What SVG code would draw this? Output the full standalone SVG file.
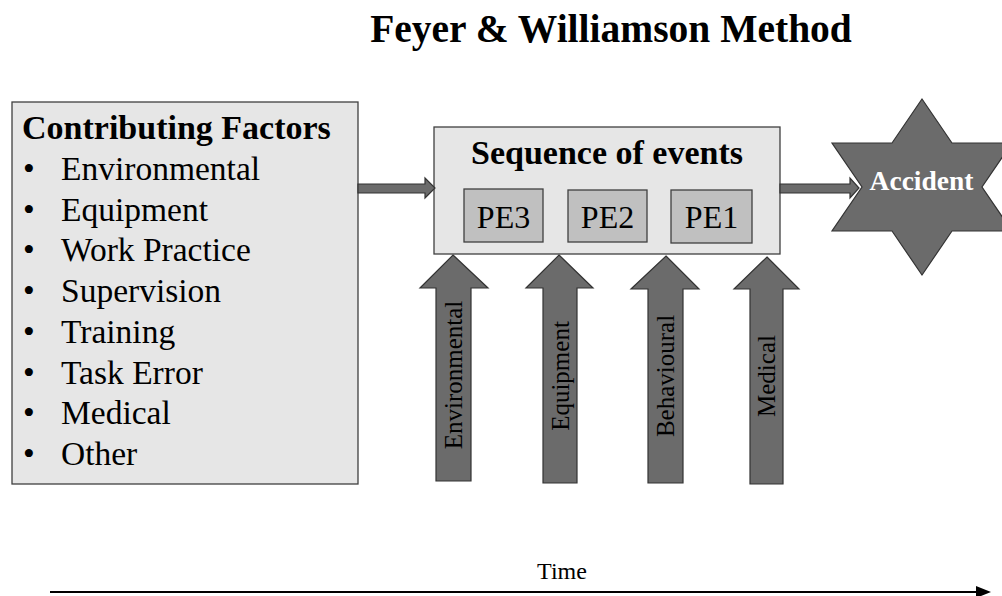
<svg xmlns="http://www.w3.org/2000/svg" width="1002" height="596" viewBox="0 0 1002 596">
<style>
.serif{font-family:"Liberation Serif","Times New Roman",serif;fill:#000}
.title{font-size:39.5px;font-weight:bold}
.head{font-size:34px;font-weight:bold}
.item{font-size:33.5px}
.pe{font-size:32px}
.vlab{font-size:25px}
.box{fill:#e6e6e6;stroke:#404040;stroke-width:1.3}
.pebox{fill:#c0c0c0;stroke:#404040;stroke-width:1.3}
.arrow{fill:#6b6b6b;stroke:#333;stroke-width:1.2}
.axis{stroke:#000;stroke-width:1.8;fill:none}
</style>
<rect width="1002" height="596" fill="#fff"/>
<text class="serif title" x="611" y="42" text-anchor="middle">Feyer &amp; Williamson Method</text>

<g id="contributing-factors">
<rect class="box" x="12" y="102" width="346" height="382"/>
<text class="serif head" x="22" y="139">Contributing Factors</text>
<g class="serif item">
<text x="23" y="180">•</text><text x="61" y="180">Environmental</text>
<text x="23" y="220.7">•</text><text x="61" y="220.7">Equipment</text>
<text x="23" y="261.4">•</text><text x="61" y="261.4">Work Practice</text>
<text x="23" y="302.1">•</text><text x="61" y="302.1">Supervision</text>
<text x="23" y="342.8">•</text><text x="61" y="342.8">Training</text>
<text x="23" y="383.5">•</text><text x="61" y="383.5">Task Error</text>
<text x="23" y="424.2">•</text><text x="61" y="424.2">Medical</text>
<text x="23" y="465">•</text><text x="61" y="465">Other</text>
</g>
</g>

<g id="sequence-of-events">
<rect class="box" x="434" y="127" width="346" height="127"/>
<text class="serif head" x="607" y="164" text-anchor="middle">Sequence of events</text>
<g id="pe3"><rect class="pebox" x="464" y="189" width="79" height="53"/><text class="serif pe" x="503.5" y="228" text-anchor="middle">PE3</text></g>
<g id="pe2"><rect class="pebox" x="568" y="190" width="79" height="52"/><text class="serif pe" x="607.5" y="228" text-anchor="middle">PE2</text></g>
<g id="pe1"><rect class="pebox" x="671" y="190" width="81" height="53"/><text class="serif pe" x="711.5" y="228" text-anchor="middle">PE1</text></g>
</g>

<g id="accident">
<path d="M922,99 L952,143 L1012,143 L982,187 L1012,231 L952,231 L922,275 L892,231 L832,231 L862,187 L832,143 L892,143 Z" fill="#6b6b6b" stroke="#333" stroke-width="1.2"/>
<text class="serif" x="921.5" y="190" text-anchor="middle" font-size="27.5" font-weight="bold" style="fill:#fff">Accident</text>
</g>

<g id="connectors">
<path class="arrow" d="M358,184 L425,184 L425,178 L435,188 L425,198 L425,193 L358,193 Z"/>
<path class="arrow" d="M780,184 L850,184 L850,178 L859,188 L850,198 L850,193 L780,193 Z"/>
<g id="arrow-environmental">
<path class="arrow" d="M453,255 L488,288 L471,288 L471,481 L436,481 L436,288 L420,288 Z"/>
<text class="serif vlab" transform="translate(462,375) rotate(-90)" text-anchor="middle">Environmental</text>
</g>
<g id="arrow-equipment">
<path class="arrow" d="M559,255 L593,288 L577,288 L577,483 L543,483 L543,288 L526,288 Z"/>
<text class="serif vlab" transform="translate(568.5,376) rotate(-90)" text-anchor="middle">Equipment</text>
</g>
<g id="arrow-behavioural">
<path class="arrow" d="M666,256 L699,289 L683,289 L683,483 L648,483 L648,289 L631,289 Z"/>
<text class="serif vlab" transform="translate(674,376) rotate(-90)" text-anchor="middle">Behavioural</text>
</g>
<g id="arrow-medical">
<path class="arrow" d="M767,257 L799,289 L783,289 L783,484 L750,484 L750,289 L734,289 Z"/>
<text class="serif vlab" transform="translate(775,376) rotate(-90)" text-anchor="middle">Medical</text>
</g>
<g id="time-axis">
<line class="axis" x1="50" y1="592" x2="978" y2="592"/>
<polygon points="976,586 991,592 976,598" fill="#000"/>
<text class="serif" x="562" y="579" text-anchor="middle" font-size="24">Time</text>
</g>
</g>
</svg>
